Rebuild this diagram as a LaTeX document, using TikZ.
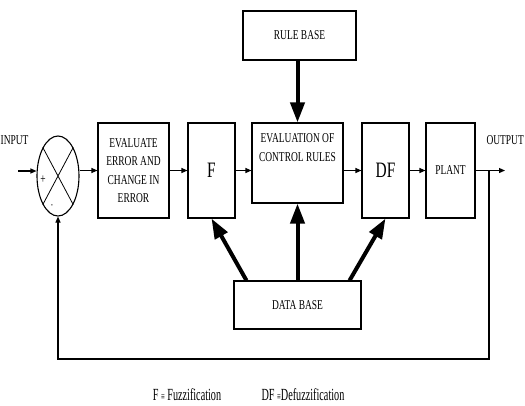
\documentclass[tikz,border=0pt]{standalone}
\usepackage{fontspec}
\newfontfamily\boxfont{Liberation Serif}[FakeStretch=0.7]
\newfontfamily\legendfont{Liberation Serif}[FakeStretch=0.6]
\usetikzlibrary{arrows.meta, shapes.geometric, calc}

\begin{document}
\begin{tikzpicture}[x=1bp, y=-1bp,
		block/.style = {draw, line width=1.1bp, inner sep=0pt, align=center, font=\boxfont\fontsize{13.5bp}{18.5bp}\selectfont},
		boxtext/.style = {inner sep=0pt, align=center, font=\boxfont\fontsize{13.5bp}{18.5bp}\selectfont},
		bigtext/.style = {font=\boxfont\fontsize{22bp}{24bp}\selectfont},
		legend/.style = {inner sep=0pt, font=\legendfont\fontsize{17bp}{19bp}\selectfont},
		thinarrow/.style = {line width=1.1bp, -{Triangle[length=6bp, width=5bp]}},
		thickarrow/.style = {line width=4bp, -{Triangle[length=20bp, width=14bp]}}
	]
		\def\rowy{170.5};
		\def\tall{95bp};
		
		\useasboundingbox (0,0) rectangle (525,405);
		
		% summing junction
		\node [block, ellipse, minimum width=42bp, minimum height=80bp] (sum) at (58,176) {};
		\draw [line width=0.8bp] (sum.north west) -- (sum.south east) (sum.north east) -- (sum.south west);
		\node [boxtext] (plus) at (43,180) {+};
		\node [boxtext, font=\boxfont\fontsize{9bp}{9bp}\selectfont] (minus) at (52,206) {-};
		
		% blocks
		\node [block, minimum width=71bp, minimum height=\tall] (error) at (133.5,\rowy) {EVALUATE\\ERROR AND\\CHANGE IN\\ERROR};
		\node [block, bigtext, minimum width=47bp, minimum height=\tall] (fuzz) at (211.5,\rowy) {F};
		\node [block, minimum width=91bp, minimum height=80bp] (rules) at (297.5,163) {};
		\node [boxtext, anchor=north] (rulestext) at ($(rules.north)+(0,11)$) {EVALUATION OF\\CONTROL RULES};
		\node [block, bigtext, minimum width=47bp, minimum height=\tall] (defuz) at (385.5,\rowy) {DF};
		\node [block, minimum width=49bp, minimum height=\tall] (plant) at (450.5,\rowy) {PLANT};
		\node [block, minimum width=113bp, minimum height=49bp] (rulebase) at (299.5,35.5) {RULE BASE};
		\node [block, minimum width=127bp, minimum height=48bp] (database) at (297.5,305) {DATA BASE};
		
		% signal path
		\coordinate (in) at (18,171);
		\coordinate (out) at (505,\rowy);
		\coordinate (tap) at (489,\rowy);
		
		\begin{scope}[thinarrow]
			\draw (in) -- (in -| sum.west);
			\draw (sum.east |- error.west) -- (error.west);
			\draw (error) -- (fuzz);
			\draw (fuzz.east) -- (fuzz.east -| rules.west);
			\draw (rules.east |- defuz.west) -- (defuz.west);
			\draw (defuz) -- (plant);
			\draw (plant.east) -- (out);
			\draw (tap) -- ++(0,188.5) -| (sum.south);
		\end{scope}
		
		% knowledge base
		\coordinate (dbleft) at ($(database.north west)+(13,0)$);
		\coordinate (dbright) at ($(database.north east)+(-12,0)$);
		
		\begin{scope}[thickarrow]
			\draw (rules.north |- rulebase.south) -- (rules.north);
			\draw (dbleft) -- (fuzz.south);
			\draw (database.north) -- (rules.south);
			\draw (dbright) -- (defuz.south);
		\end{scope}
		
		% labels
		\node [boxtext, anchor=west] (inlabel) at (0.5,140) {INPUT};
		\node [boxtext, anchor=east] (outlabel) at (524,140) {OUTPUT};
		\node [legend] (legendf) at (187,395) {F {\fontsize{11bp}{11bp}\selectfont ≡} Fuzzification};
		\node [legend] (legenddf) at (303,395) {DF {\fontsize{11bp}{11bp}\selectfont ≡}Defuzzification};
	\end{tikzpicture}
\end{document}
